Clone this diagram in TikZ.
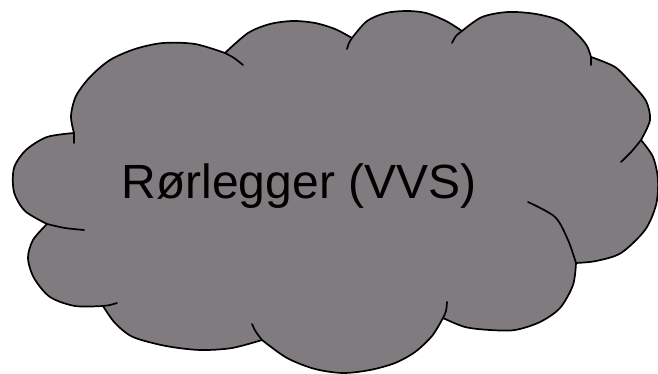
\documentclass[tikz,border=0pt]{standalone}
\usepackage{fontspec}
\setmainfont{Liberation Sans}
\usepackage{tikz}
\definecolor{cloud_gray}{RGB}{128,123,127}
\definecolor{cloud_edge}{RGB}{0,0,0}

\begin{document}
\begin{tikzpicture}[x=1pt,y=-1pt,line join=round,line cap=round]
    \tikzstyle{cloud}=[fill=cloud_gray,draw=cloud_edge,line width=1.7pt]
    \tikzstyle{tail}=[draw=cloud_edge,line width=1.7pt]
    \tikzstyle{label}=[text=black,inner sep=0pt,anchor=base,font=\fontsize{48}{58}\selectfont]

    \useasboundingbox (0,0) rectangle (658,374);

    % outline, one lobe after the other
    \path[cloud] plot[smooth] coordinates {(74,133) (71,116) (76,96) (90,77) (110,60) (135,49) (163,43) (195,44) (225,53)}
     -- plot[smooth] coordinates {(225,53) (248,33) (270,24) (293,21) (315,23) (335,29) (352,38)}
     -- plot[smooth] coordinates {(352,38) (367,21) (386,13) (407,11) (426,13) (446,21) (462,31)}
     -- plot[smooth] coordinates {(462,31) (482,17) (508,12) (536,14) (561,21) (578,35) (587,46) (591,57)}
     -- plot[smooth] coordinates {(591,57) (615,67) (632,84) (646,101) (650,120) (641,140)}
     -- plot[smooth] coordinates {(641,140) (653,157) (658,180) (656,205) (645,230) (621,253) (596,261) (576,263)}
     -- plot[smooth] coordinates {(576,263) (573,285) (560,308) (540,322) (515,330) (490,330) (465,327) (443,318)}
     -- plot[smooth] coordinates {(443,318) (432,336) (415,352) (395,363) (370,370) (343,373) (315,369) (287,358) (262,340)}
     -- plot[smooth] coordinates {(262,340) (232,348) (200,350) (166,346) (133,337) (115,323) (103,306)}
     -- plot[smooth] coordinates {(103,306) (75,306) (50,297) (34,278) (28,258) (33,240) (47,224)}
     -- plot[smooth] coordinates {(47,224) (25,211) (14,192) (14,168) (26,150) (47,137) (74,133)}
     -- cycle;

    % inner ends of the lobes
    \draw[tail] (74,143) -- (74,133);
    \draw[tail] plot[smooth] coordinates {(225,53) (234,58) (243,65)};
    \draw[tail] plot[smooth] coordinates {(347,49) (349,43) (352,38)};
    \draw[tail] plot[smooth] coordinates {(452,43) (456,36) (462,31)};
    \draw[tail] (591,65) -- (591,57);
    \draw[tail] plot[smooth] coordinates {(621,162) (632,151) (641,140)};
    \draw[tail] plot[smooth] coordinates {(528,202) (555,217) (568,240) (576,263)};
    \draw[tail] plot[smooth] coordinates {(447,302) (446,311) (443,318)};
    \draw[tail] plot[smooth] coordinates {(262,340) (256,332) (252,324)};
    \draw[tail] plot[smooth] coordinates {(117,303) (110,305) (103,306)};
    \draw[tail] plot[smooth] coordinates {(84,230) (65,228) (47,224)};

    \node[label] (trade) at (299,199) {Rørlegger (VVS)};
\end{tikzpicture}
\end{document}
